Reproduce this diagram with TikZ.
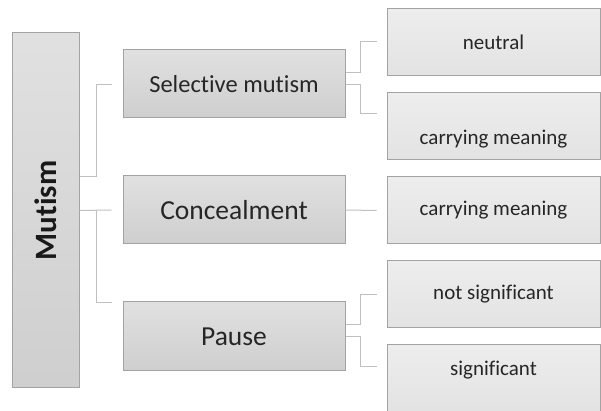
\documentclass[tikz,border=0pt]{standalone}
\usepackage{fontspec}
\setmainfont{Carlito}[Ligatures=NoCommon]
\usepackage{tikz}

\definecolor{boxline}{HTML}{A3A3A3}
\definecolor{linkline}{HTML}{C0C0C0}
\definecolor{darktext}{HTML}{262626}

\begin{document}
\begin{tikzpicture}[x=1pt, y=1pt,
    box/.style={draw=boxline, line width=1pt, top color=black!12, bottom color=black!19, text=darktext, inner sep=0pt},
    midbox/.style={box, minimum width=222pt, minimum height=68pt},
    leaf/.style={draw=boxline, line width=1pt, top color=black!7, bottom color=black!11, text=darktext,
      minimum width=213pt, minimum height=67pt, inner sep=0pt, font=\fontsize{21}{25}\selectfont},
    link/.style={draw=linkline, line width=1pt}]
    \useasboundingbox (0,0) rectangle (601,411);

    % root
    \node[box, minimum width=67pt, minimum height=355pt, text=black!90, font=\fontsize{31}{37}\selectfont\bfseries] (mutism) at (45.5,200.5) {\rotatebox{90}{Mutism}};

    % second level
    \node[midbox, font=\fontsize{24.5}{29}\selectfont] (sel) at (234,327) {Selective mutism};
    \node[midbox, font=\fontsize{27.5}{33}\selectfont] (conc) at (234,201) {Concealment};
    \node[midbox, minimum height=69pt, font=\fontsize{27.5}{33}\selectfont] (pause) at (234,74.5) {Pause};

    % leaves
    \node[leaf] (neutral) at (493.5,369) {neutral};
    \node[leaf, text height=40pt] (carry1) at (493.5,284.5) {carrying meaning};
    \node[leaf] (carry2) at (493.5,200.5) {carrying meaning};
    \node[leaf] (notsig) at (493.5,116.5) {not significant};
    \node[leaf, text depth=21pt] (sig) at (493.5,32.5) {significant};

    % free ends of the connectors
    \coordinate (sel-in) at ([xshift=-11pt,yshift=-1pt]sel.west);
    \coordinate (conc-in) at ([xshift=-11pt]conc.west);
    \coordinate (pause-in) at ([xshift=-11pt,yshift=33.5pt]pause.west);
    \coordinate (neutral-in) at ([xshift=-10pt]neutral.west);
    \coordinate (carry1-in) at ([xshift=-10pt,yshift=12.5pt]carry1.west);
    \coordinate (carry2-in) at ([xshift=-10pt]carry2.west);
    \coordinate (notsig-in) at ([xshift=-10pt]notsig.west);
    \coordinate (sig-in) at ([xshift=-10pt,yshift=11.5pt]sig.west);

    \draw[link] ([yshift=33.5pt]mutism.east) -- ++(17,0) |- (sel-in);
    \draw[link] (mutism.east) -- (conc-in);
    \draw[link] ([xshift=17pt]mutism.east) |- (pause-in);

    \draw[link] ([yshift=11pt]sel.east) -- ++(15,0) |- (neutral-in);
    \draw[link] ([yshift=-1pt]sel.east) -- ++(15,0) |- (carry1-in);
    \draw[link] (conc.east) -- (carry2-in);
    \draw[link] ([yshift=11.5pt]pause.east) -- ++(15,0) |- (notsig-in);
    \draw[link] (pause.east) -- ++(15,0) |- (sig-in);
  \end{tikzpicture}
\end{document}
